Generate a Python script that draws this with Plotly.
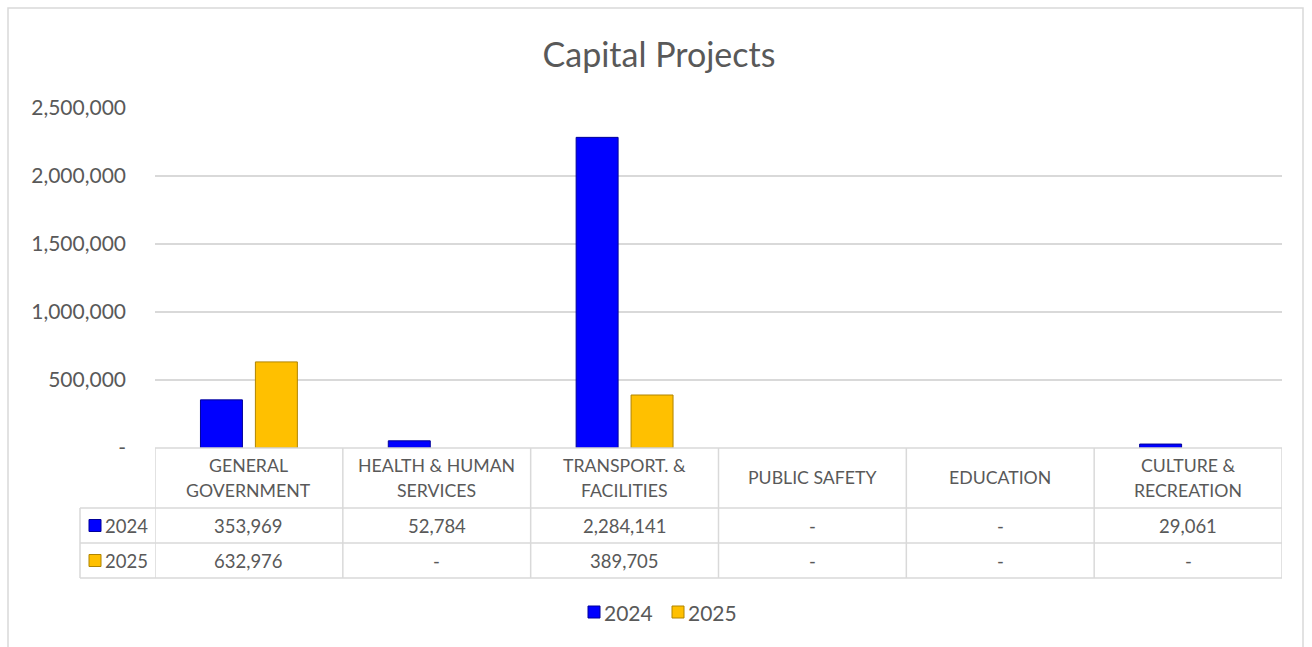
import plotly.graph_objects as go

# Capital project spending by function
categories = ["GENERAL\nGOVERNMENT", "HEALTH & HUMAN\nSERVICES", "TRANSPORT. &\nFACILITIES",
              "PUBLIC SAFETY", "EDUCATION", "CULTURE &\nRECREATION"]
series_names = ["2024", "2025"]
values_2024 = [353969, 52784, 2284141, 0, 0, 29061]
values_2025 = [632976, 0, 389705, 0, 0, 0]
y_tickvals = [0, 500000, 1000000, 1500000, 2000000, 2500000]

colors = {"2024": "#0000FF", "2025": "#FFC000"}
edges = {"2024": "#00009A", "2025": "#B08400"}
text_color = "#595959"
line_color = "#D9D9D9"
font_family = "Lato, Open Sans, sans-serif"

W, H = 1312, 647
L, R, T, B = 155, 30, 108, 199
plot_h = H - T - B
plot_w = W - L - R


def py(px):
    """Pixel row -> paper y."""
    return (H - B - px) / plot_h


def pxx(px):
    """Pixel column -> paper x."""
    return (px - L) / plot_w


def fmt(v):
    return "-" if v == 0 else f"{v:,}"


fig = go.Figure()
for name, vals in zip(series_names, [values_2024, values_2025]):
    fig.add_trace(go.Bar(
        x=list(range(len(categories))), y=vals, name=name, showlegend=False,
        marker=dict(color=colors[name],
                    line=dict(color=edges[name], width=[1 if v else 0 for v in vals])),
    ))

shapes = []
annotations = []
n = len(categories)

# data table grid below the plot
header_top, header_bot, row1_bot, row2_bot = 448, 508, 543, 578
grid = dict(color=line_color, width=1.5)
for i in range(n + 1):
    xv = i - 0.5
    shapes.append(dict(type="line", xref="x", yref="paper", x0=xv, x1=xv,
                       y0=py(header_top), y1=py(row2_bot), line=grid))
shapes.append(dict(type="line", xref="paper", yref="paper", x0=pxx(80), x1=pxx(80),
                   y0=py(header_bot), y1=py(row2_bot), line=grid))
shapes.append(dict(type="line", xref="x", yref="paper", x0=-0.5, x1=n - 0.5,
                   y0=py(header_top), y1=py(header_top), line=grid))
for yy in (header_bot, row1_bot, row2_bot):
    shapes.append(dict(type="line", xref="paper", yref="paper", x0=pxx(80), x1=1,
                       y0=py(yy), y1=py(yy), line=grid))

# chart outline
shapes.append(dict(type="rect", xref="paper", yref="paper", x0=pxx(8), x1=pxx(1303),
                   y0=py(660), y1=py(8), line=grid,
                   fillcolor="rgba(0,0,0,0)", layer="below"))


def key_box(x_left, y_mid, name):
    """Small colour key square (12 px) with its left edge at x_left."""
    return dict(type="rect", xref="paper", yref="paper",
                x0=pxx(x_left), x1=pxx(x_left + 12),
                y0=y_mid - 6 / plot_h, y1=y_mid + 6 / plot_h,
                fillcolor=colors[name], line=dict(color=edges[name], width=1))


head_font = dict(family=font_family, size=17.7, color=text_color)
cell_font = dict(family=font_family, size=18.5, color=text_color)
header_mid = (header_top + header_bot) / 2
for i, cat in enumerate(categories):
    lines = cat.split("\n")
    offset = 12.5 * (len(lines) - 1)
    for k, line in enumerate(lines):
        annotations.append(dict(x=i, y=py(header_mid - offset + 25 * k), xref="x", yref="paper",
                                yanchor="middle", text=line, showarrow=False, font=head_font))
for row, (name, vals) in enumerate(zip(series_names, [values_2024, values_2025])):
    yc = py(525.5 if row == 0 else 560.5)
    for i, v in enumerate(vals):
        annotations.append(dict(x=i, y=yc, xref="x", yref="paper", yanchor="middle",
                                text=fmt(v), showarrow=False, font=cell_font))
    # row header with colour key
    shapes.append(key_box(89, yc, name))
    annotations.append(dict(x=pxx(103), y=yc, xref="paper", yref="paper", text=name,
                            xanchor="left", yanchor="middle", showarrow=False, font=cell_font))

# legend below the table
legend_font = dict(family=font_family, size=21, color=text_color)
legend_y = py(612)
for name, x_left in zip(series_names, [588, 672]):
    shapes.append(key_box(x_left, legend_y, name))
    annotations.append(dict(x=pxx(x_left + 14), y=legend_y, xref="paper", yref="paper",
                            text=name, xanchor="left", yanchor="middle", showarrow=False,
                            font=legend_font))

fig.update_layout(
    width=W, height=H,
    margin=dict(l=L, r=R, t=T, b=B),
    paper_bgcolor="white", plot_bgcolor="white",
    barmode="group", bargap=0.415, bargroupgap=0.236,
    showlegend=False,
    title=dict(text="Capital Projects", xref="paper", x=pxx(659), xanchor="center",
               yref="container", y=1 - 55 / H, yanchor="middle",
               font=dict(family=font_family, size=34, color=text_color)),
    xaxis=dict(range=[-0.5, n - 0.5], showticklabels=False, showgrid=False,
               zeroline=False, showline=False, fixedrange=True),
    yaxis=dict(range=[0, 2500000], tickvals=y_tickvals,
               ticktext=[fmt(v) for v in y_tickvals],
               tickfont=dict(family=font_family, size=21, color=text_color),
               showgrid=True, gridcolor=line_color, gridwidth=1.5,
               zeroline=False, showline=False, ticks="", ticklabelstandoff=28),
    shapes=shapes, annotations=annotations,
)

fig.write_html("out.html")
